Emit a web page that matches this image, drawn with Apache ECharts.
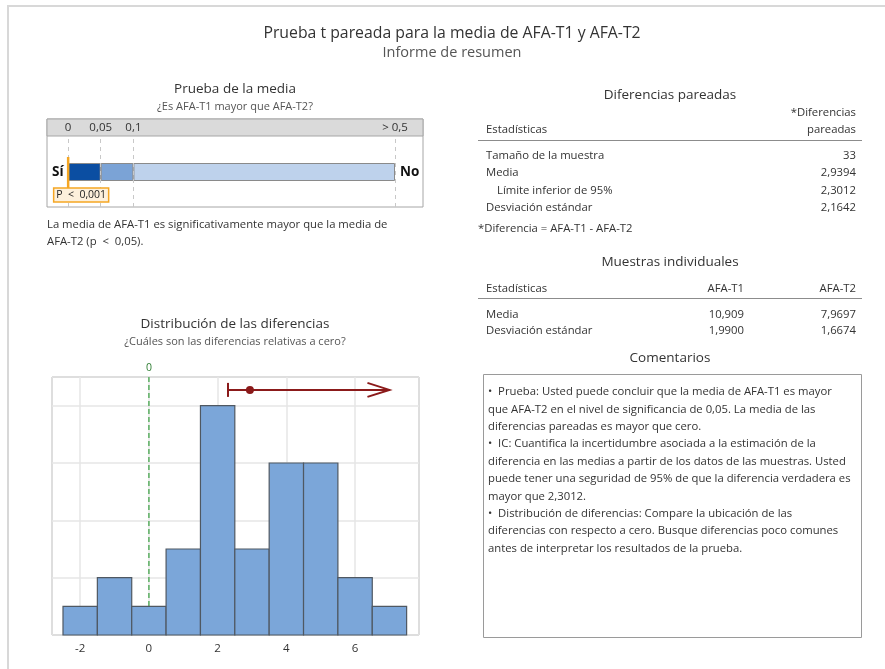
<!DOCTYPE html>
<html>
<head>
<meta charset="utf-8">
<script src="https://cdn.jsdelivr.net/npm/echarts@6/dist/echarts.min.js"></script>
<style>
  html, body { margin: 0; padding: 0; background: #fff; }
  #chart { width: 885px; height: 669px; }
</style>
</head>
<body>
<div id="chart"></div>
<script>
// histogram of paired differences (bin starts, width 1)
const binStarts = [-2.5, -1.5, -0.5, 0.5, 1.5, 2.5, 3.5, 4.5, 5.5, 6.5];
const binCounts = [1, 2, 1, 3, 8, 3, 6, 6, 2, 1];
const binWidth = 1;

// confidence interval for the mean difference
const ciLower = 2.3012;
const meanDiff = 2.9394;
const ciArrowEnd = 7.0;
const ciLevel = 8.55;
const refValue = 0;

// p-value scale
const pTicks = [0, 0.05, 0.1, 0.5];
const pTickLabels = ['0', '0,05', '0,1', '> 0,5'];
const pValue = 0.001;
const pLabel = 'P  <  0,001';

// tables
const pairedRows = ['Tamaño de la muestra', 'Media', 'Límite inferior de 95%', 'Desviación estándar'];
const pairedValues = ['33', '2,9394', '2,3012', '2,1642'];
const sampleRows = ['Media', 'Desviación estándar'];
const sampleT1 = ['10,909', '1,9900'];
const sampleT2 = ['7,9697', '1,6674'];

const commentLines = [
  '•  Prueba: Usted puede concluir que la media de AFA-T1 es mayor',
  'que AFA-T2 en el nivel de significancia de 0,05. La media de las',
  'diferencias pareadas es mayor que cero.',
  '•  IC: Cuantifica la incertidumbre asociada a la estimación de la',
  'diferencia en las medias a partir de los datos de las muestras. Usted',
  'puede tener una seguridad de 95% de que la diferencia verdadera es',
  'mayor que 2,3012.',
  '•  Distribución de diferencias: Compare la ubicación de las',
  'diferencias con respecto a cero. Busque diferencias poco comunes',
  'antes de interpretar los resultados de la prueba.'
];

const FONT = '"Open Sans", "Noto Sans", sans-serif';
const BODY = 11.3;
const HEAD = 13.5;

// piecewise p scale: 0..0.1 over two equal steps, 0.1..0.5 over eight
function pPos(p) {
  return p <= 0.1 ? p / 0.05 : 2 + (p - 0.1) / 0.4 * 8;
}

// height of the histogram bar under the reference line (line is hidden behind it)
function countAt(v) {
  for (let i = 0; i < binStarts.length; i++) {
    if (v >= binStarts[i] && v < binStarts[i] + binWidth) return binCounts[i];
  }
  return 0;
}

const chart = echarts.init(document.getElementById('chart'));

function txt(x, y, text, o) {
  o = o || {};
  return {
    type: 'text', x: x, y: y, silent: true,
    style: {
      text: text,
      fill: o.color || '#333',
      font: (o.weight || 'normal') + ' ' + (o.size || BODY) + 'px ' + FONT,
      align: o.align || 'left',
      verticalAlign: 'middle'
    }
  };
}

const g = [];
// outer panel
g.push({ type: 'rect', shape: { x: 8, y: 6, width: 900, height: 700 },
  style: { fill: '#fff', stroke: '#d8d8d8', lineWidth: 2 }, z: -10 });
g.push(txt(452, 33, 'Prueba t pareada para la media de AFA-T1 y AFA-T2', { size: 15.8, align: 'center' }));
g.push(txt(452, 53, 'Informe de resumen', { size: 14.5, color: '#555', align: 'center' }));

// left top section
g.push(txt(235, 89, 'Prueba de la media', { size: HEAD, align: 'center' }));
g.push(txt(235, 107, '¿Es AFA-T1 mayor que AFA-T2?', { size: 11, color: '#555', align: 'center' }));
g.push({ type: 'rect', shape: { x: 47, y: 119, width: 376, height: 88 },
  style: { fill: '#fff', stroke: '#a6a6a6', lineWidth: 1 } });
g.push({ type: 'rect', shape: { x: 47, y: 119, width: 376, height: 17 },
  style: { fill: '#dadada', stroke: '#a6a6a6', lineWidth: 1 } });
g.push(txt(52, 172, 'Sí', { size: 13.5, weight: 'bold', color: '#111' }));
g.push(txt(400, 172, 'No', { size: 13.5, weight: 'bold', color: '#111' }));
g.push(txt(47, 225, 'La media de AFA-T1 es significativamente mayor que la media de'));
g.push(txt(47, 242, 'AFA-T2 (p  <  0,05).'));

// histogram titles
g.push(txt(235, 324, 'Distribución de las diferencias', { size: HEAD, align: 'center' }));
g.push(txt(235, 342, '¿Cuáles son las diferencias relativas a cero?', { size: 11, color: '#555', align: 'center' }));

// paired differences table
g.push(txt(670, 95, 'Diferencias pareadas', { size: HEAD, align: 'center' }));
g.push(txt(856, 113, '*Diferencias', { align: 'right' }));
g.push(txt(856, 130, 'pareadas', { align: 'right' }));
g.push(txt(486, 130, 'Estadísticas'));
g.push({ type: 'line', shape: { x1: 478, y1: 140.5, x2: 862, y2: 140.5 }, style: { stroke: '#8c8c8c', lineWidth: 1 } });
const pairedY = [156, 173, 191, 208];
pairedRows.forEach(function (r, i) {
  g.push(txt(i === 2 ? 497 : 486, pairedY[i], r));
  g.push(txt(856, pairedY[i], pairedValues[i], { align: 'right' }));
});
g.push(txt(478, 229, '*Diferencia = AFA-T1 - AFA-T2'));

// individual samples table
g.push(txt(670, 262, 'Muestras individuales', { size: HEAD, align: 'center' }));
g.push(txt(486, 289, 'Estadísticas'));
g.push(txt(744, 289, 'AFA-T1', { align: 'right' }));
g.push(txt(856, 289, 'AFA-T2', { align: 'right' }));
g.push({ type: 'line', shape: { x1: 478, y1: 298.5, x2: 862, y2: 298.5 }, style: { stroke: '#8c8c8c', lineWidth: 1 } });
const sampleY = [315, 331];
sampleRows.forEach(function (r, i) {
  g.push(txt(486, sampleY[i], r));
  g.push(txt(744, sampleY[i], sampleT1[i], { align: 'right' }));
  g.push(txt(856, sampleY[i], sampleT2[i], { align: 'right' }));
});

// comments
g.push(txt(670, 358, 'Comentarios', { size: HEAD, align: 'center' }));
g.push({ type: 'rect', shape: { x: 483.5, y: 374.5, width: 378, height: 263 },
  style: { fill: 'none', stroke: '#9a9a9a', lineWidth: 1 } });
commentLines.forEach(function (l, i) {
  g.push(txt(488, 392 + i * 17.4, l));
});

const histData = binStarts.map(function (s, i) { return [s, s + binWidth, binCounts[i]]; });

const option = {
  animation: false,
  backgroundColor: '#fff',
  textStyle: { fontFamily: FONT },
  graphic: { elements: g },
  grid: [
    { left: 52, right: 466, top: 377, bottom: 34, show: true, borderColor: '#8c8c8c', borderWidth: 1 },
    { left: 68, right: 490, top: 137, bottom: 462 }
  ],
  xAxis: [
    {
      type: 'value', gridIndex: 0, min: -2.82, max: 7.86, splitNumber: 5,
      axisLine: { show: false }, axisTick: { show: false },
      axisLabel: { showMinLabel: false, showMaxLabel: false, color: '#333', fontSize: 11.5, margin: 8 },
      splitLine: { show: true, lineStyle: { color: '#e6e6e6', width: 1.5 } }
    },
    {
      type: 'value', gridIndex: 1, min: 0, max: 10,
      axisLine: { show: false }, axisTick: { show: false }, axisLabel: { show: false },
      splitLine: { show: false }
    }
  ],
  yAxis: [
    {
      type: 'value', gridIndex: 0, min: 0, max: 9, interval: 2,
      axisLine: { show: false }, axisTick: { show: false }, axisLabel: { show: false },
      splitLine: { show: true, lineStyle: { color: '#e6e6e6', width: 1.5 } }
    },
    {
      type: 'category', gridIndex: 1, data: [''],
      axisLine: { show: false }, axisTick: { show: false }, axisLabel: { show: false }
    }
  ],
  series: [
    {
      // reference line at zero, ending at the top of the bar beneath it
      type: 'custom', xAxisIndex: 0, yAxisIndex: 0, z: 1,
      data: [[refValue, countAt(refValue)]],
      renderItem: function (params, api) {
        const top = api.coord([api.value(0), 9]);
        const bot = api.coord([api.value(0), api.value(1)]);
        return {
          type: 'group',
          children: [
            { type: 'line', shape: { x1: top[0], y1: top[1], x2: bot[0], y2: bot[1] },
              style: { stroke: '#5aae61', lineWidth: 1.5, lineDash: [5, 3] } },
            { type: 'text', x: top[0], y: top[1] - 9,
              style: { text: String(api.value(0)), font: '10.5px ' + FONT, fill: '#2e7d32', align: 'center', verticalAlign: 'middle' } }
          ]
        };
      }
    },
    {
      type: 'custom', xAxisIndex: 0, yAxisIndex: 0, z: 3,
      data: histData,
      renderItem: function (params, api) {
        const p0 = api.coord([api.value(0), api.value(2)]);
        const p1 = api.coord([api.value(1), 0]);
        return {
          type: 'rect',
          shape: { x: p0[0], y: p0[1], width: p1[0] - p0[0], height: p1[1] - p0[1] },
          style: { fill: '#7ba6d9', stroke: '#4f5862', lineWidth: 1.2 }
        };
      }
    },
    {
      // confidence interval with arrow
      type: 'custom', xAxisIndex: 0, yAxisIndex: 0, z: 4,
      data: [[ciLower, meanDiff, ciArrowEnd, ciLevel]],
      renderItem: function (params, api) {
        const a = api.coord([api.value(0), api.value(3)]);
        const m = api.coord([api.value(1), api.value(3)]);
        const e = api.coord([api.value(2), api.value(3)]);
        const col = '#8b1a1a';
        return {
          type: 'group',
          children: [
            { type: 'line', shape: { x1: a[0], y1: a[1], x2: e[0], y2: e[1] }, style: { stroke: col, lineWidth: 2 } },
            { type: 'line', shape: { x1: a[0], y1: a[1] - 7, x2: a[0], y2: a[1] + 7 }, style: { stroke: col, lineWidth: 2 } },
            { type: 'polyline', shape: { points: [[e[0] - 22, e[1] - 7], [e[0], e[1]], [e[0] - 22, e[1] + 7]] },
              style: { stroke: col, lineWidth: 2, fill: 'none' } },
            { type: 'circle', shape: { cx: m[0], cy: m[1], r: 4 }, style: { fill: col } }
          ]
        };
      }
    },
    {
      // p-value scale reference lines and labels
      type: 'line', xAxisIndex: 1, yAxisIndex: 1, data: [], z: 1,
      markLine: {
        silent: true, symbol: 'none',
        lineStyle: { color: '#c8c8c8', type: [4, 4], width: 1 },
        label: { show: true, position: 'end', distance: 3, color: '#333', fontSize: 11.5,
          formatter: function (p) { return p.name; } },
        data: pTicks.map(function (t, i) { return { xAxis: pPos(t), name: pTickLabels[i] }; })
      }
    },
    {
      type: 'bar', xAxisIndex: 1, yAxisIndex: 1, stack: 'p', barWidth: 18, z: 2,
      data: [pPos(pTicks[1]) - pPos(pTicks[0])],
      itemStyle: { color: '#0b4ea2', borderColor: '#8a8a8a', borderWidth: 1 }
    },
    {
      type: 'bar', xAxisIndex: 1, yAxisIndex: 1, stack: 'p', barWidth: 18, z: 2,
      data: [pPos(pTicks[2]) - pPos(pTicks[1])],
      itemStyle: { color: '#7ba3d6', borderColor: '#8a8a8a', borderWidth: 1 }
    },
    {
      type: 'bar', xAxisIndex: 1, yAxisIndex: 1, stack: 'p', barWidth: 18, z: 2,
      data: [pPos(pTicks[3]) - pPos(pTicks[2])],
      itemStyle: { color: '#bed2ec', borderColor: '#8a8a8a', borderWidth: 1 }
    },
    {
      // p-value marker
      type: 'custom', xAxisIndex: 1, yAxisIndex: 1, z: 5,
      data: [[pPos(pValue), 0]],
      renderItem: function (params, api) {
        const c = api.coord([api.value(0), api.value(1)]);
        const x = c[0] - 0.5;
        return {
          type: 'group',
          children: [
            { type: 'line', shape: { x1: x, y1: c[1] - 15, x2: x, y2: c[1] + 16 }, style: { stroke: '#f5a623', lineWidth: 2.5 } },
            { type: 'rect', shape: { x: x - 14.5, y: c[1] + 16, width: 55, height: 14 },
              style: { fill: '#fdf0dc', stroke: '#f5a623', lineWidth: 1.5 } },
            { type: 'text', x: x - 12, y: c[1] + 23.5,
              style: { text: pLabel, font: '10.5px ' + FONT, fill: '#222', verticalAlign: 'middle' } }
          ]
        };
      }
    }
  ]
};

chart.setOption(option);
</script>
</body>
</html>
